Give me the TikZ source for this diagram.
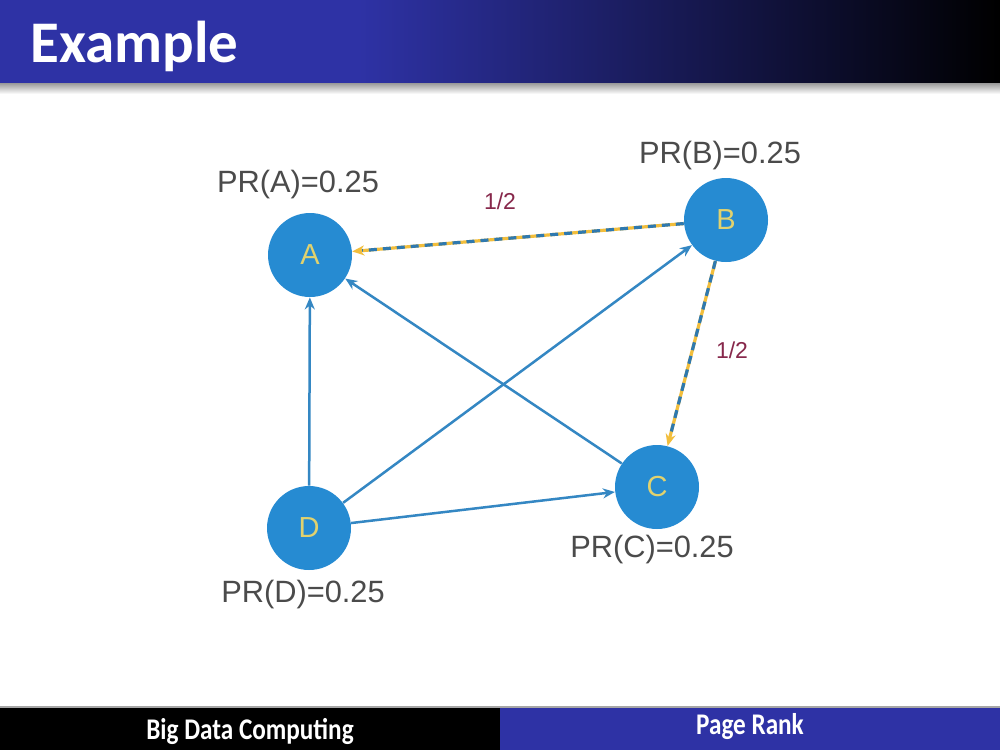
\documentclass[tikz,border=0pt]{standalone}
\usepackage{fontspec}
\setmainfont{Liberation Sans}
\newfontfamily\slidefont{Carlito}
\newfontfamily\barfont[FakeStretch=0.84]{Carlito}
\usepackage{tikz}
\usepackage{xcolor}
\usetikzlibrary{arrows.meta, positioning, calc}
\definecolor{slideBlue}{RGB}{46,50,165}
\definecolor{nodeBlue}{RGB}{38,139,210}
\definecolor{edgeBlue}{RGB}{52,135,195}
\definecolor{dashYellow}{RGB}{242,190,60}
\definecolor{letterYellow}{RGB}{225,210,110}
\definecolor{labelGray}{RGB}{75,75,75}
\definecolor{weightRed}{RGB}{135,40,75}
\tikzset{
    pagenode/.style={
        circle,
        fill=nodeBlue,
        draw=none,
        minimum size=42pt,
        inner sep=0pt,
        text=letterYellow,
        font=\fontsize{14.5}{15}\selectfont
    },
    prlabel/.style={
        text=labelGray,
        inner sep=0pt,
        font=\fontsize{15.4}{16}\selectfont
    },
    weight/.style={
        text=weightRed,
        inner sep=0pt,
        font=\fontsize{11.5}{12}\selectfont
    },
    linkarrow/.style={-{Stealth[length=6pt, width=5pt]}, line width=1.25pt, draw=edgeBlue},
    yellowpart/.style={-{Stealth[length=6pt, width=5pt]}, line width=1.6pt, draw=dashYellow},
    bluepart/.style={line width=1.6pt, draw=edgeBlue!90!black, dash pattern=on 4pt off 3pt, shorten >=5pt},
    bartext/.style={text=white, font=\barfont\bfseries\fontsize{15}{15}\selectfont}
}

\begin{document}
\begin{tikzpicture}[x=0.5pt, y=-0.5pt]
    \useasboundingbox (0,0) rectangle (1000,750);
    \fill[white] (0,0) rectangle (1000,750);
    % title bar
    \fill[slideBlue] (0,0) rectangle (360,83);
    \shade[left color=slideBlue, right color=black] (359,0) rectangle (1000,83);
    \shade[top color=gray!80, bottom color=white] (0,83) rectangle (1000,94);
    \node[anchor=base west, text=white, inner sep=0pt,
          font=\slidefont\bfseries\fontsize{29.5}{30}\selectfont] (title) at (30,62) {Example};
    % footer
    \fill[gray!70] (0,706) rectangle (1000,708);
    \fill[black] (0,708) rectangle (500,750);
    \fill[slideBlue] (500,708) rectangle (1000,750);
    \node[bartext] (course) at (250,731) {Big Data Computing};
    \node[bartext] (topic) at (750,727) {Page Rank};

    % pages
    \node[pagenode] (A) at (310,255) {A};
    \node[pagenode] (B) at (726,220) {B};
    \node[pagenode] (C) at (657,487) {C};
    \node[pagenode] (D) at (309,528) {D};

    \node[prlabel] (prA) at (298,185) {PR(A)=0.25};
    \node[prlabel] (prB) at (720,156) {PR(B)=0.25};
    \node[prlabel] (prC) at (652,550) {PR(C)=0.25};
    \node[prlabel] (prD) at (303,595) {PR(D)=0.25};

    % links
    \draw[linkarrow] (D) -- (A);
    \draw[linkarrow] (D) -- (B);
    \draw[linkarrow] (C) -- (A);
    \draw[linkarrow] (D) -- (C);

    % outgoing links of B, half weight each
    \draw[yellowpart] (B) -- (A);
    \draw[bluepart] (B) -- (A);
    \draw[yellowpart] (B) -- (C);
    \draw[bluepart] (B) -- (C);
    \node[weight] (wBA) at (500,201) {1/2};
    \node[weight] (wBC) at (732,350) {1/2};
\end{tikzpicture}
\end{document}
